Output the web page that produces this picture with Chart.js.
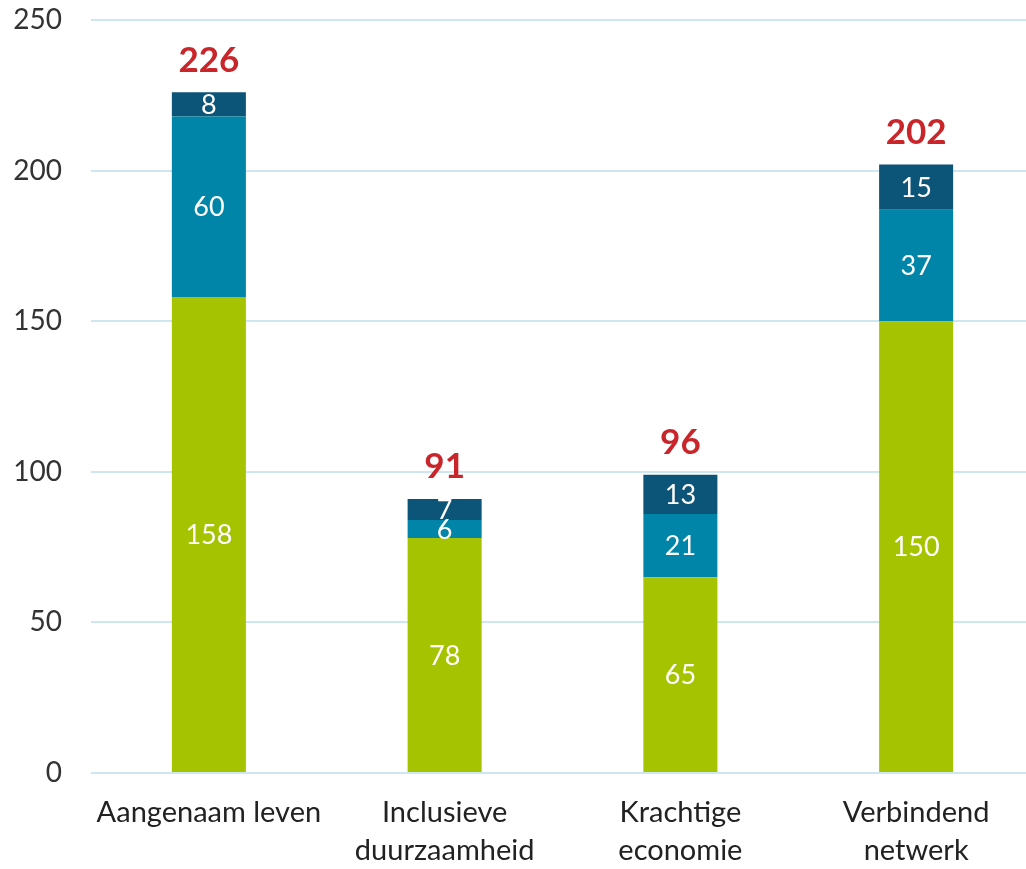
<!DOCTYPE html>
<html>
<head>
<meta charset="utf-8">
<script src="https://cdn.jsdelivr.net/npm/chart.js@4/dist/chart.umd.min.js"></script>
<style>
html,body{margin:0;padding:0;background:#fff;overflow:hidden;}
#wrap{width:1026px;height:869px;position:relative;overflow:hidden;}
#c{position:absolute;left:0;top:0;}
</style>
</head>
<body>
<div id="wrap"><canvas id="c" width="1034" height="869"></canvas></div>
<script>
const categories = [["Aangenaam leven"], ["Inclusieve", "duurzaamheid"], ["Krachtige", "economie"], ["Verbindend", "netwerk"]];
const seriesGreen = [158, 78, 65, 150];
const seriesTeal = [60, 6, 21, 37];
const seriesDark = [8, 7, 13, 15];
const totals = [226, 91, 96, 202];
const yTicks = [0, 50, 100, 150, 200, 250];

const FONT = "Lato, 'Open Sans', sans-serif";

const labelPlugin = {
  id: 'labels',
  afterDatasetsDraw(chart) {
    const ctx = chart.ctx;
    ctx.save();
    ctx.textAlign = 'center';
    ctx.textBaseline = 'middle';
    ctx.fillStyle = '#ffffff';
    ctx.font = "27px " + FONT;
    chart.data.datasets.forEach((ds, di) => {
      const meta = chart.getDatasetMeta(di);
      meta.data.forEach((bar, i) => {
        const yc = (bar.y + bar.base) / 2;
        ctx.fillText(String(ds.data[i]), bar.x, yc + 1);
      });
    });
    const last = chart.getDatasetMeta(chart.data.datasets.length - 1);
    ctx.fillStyle = '#c8262b';
    ctx.font = "bold 35px " + FONT;
    last.data.forEach((bar, i) => {
      ctx.fillText(String(totals[i]), bar.x, bar.y - 32);
    });
    ctx.restore();
  }
};

new Chart(document.getElementById('c'), {
  type: 'bar',
  data: {
    labels: categories,
    datasets: [
      { data: seriesGreen, backgroundColor: '#a6c300' },
      { data: seriesTeal, backgroundColor: '#0085a8' },
      { data: seriesDark, backgroundColor: '#0d5479' }
    ]
  },
  options: {
    responsive: false,
    animation: false,
    devicePixelRatio: 1,
    layout: { padding: { top: 20, right: 0, left: 0, bottom: 0 } },
    plugins: { legend: { display: false }, tooltip: { enabled: false } },
    datasets: { bar: { barPercentage: 0.314, categoryPercentage: 1.0 } },
    scales: {
      x: {
        stacked: true,
        grid: { display: false },
        border: { display: false },
        afterFit(s) { s.paddingLeft = 0; s.paddingRight = 0; s.paddingBottom = 0; s.height = 96; },
        ticks: { color: '#222', font: { family: FONT, size: 29, lineHeight: 1.3 }, padding: 13, maxRotation: 0, autoSkip: false }
      },
      y: {
        stacked: true,
        min: 0, max: 250,
        afterBuildTicks(axis) { axis.ticks = yTicks.map(v => ({ value: v })); },
        afterFit(s) { s.paddingTop = 0; s.paddingBottom = 0; s.width = 91; },
        grid: { color: '#cde6f0', lineWidth: 2, drawTicks: false },
        border: { display: false },
        ticks: { color: '#333', font: { family: FONT, size: 28 }, padding: 29 }
      }
    }
  },
  plugins: [labelPlugin]
});
</script>
</body>
</html>
